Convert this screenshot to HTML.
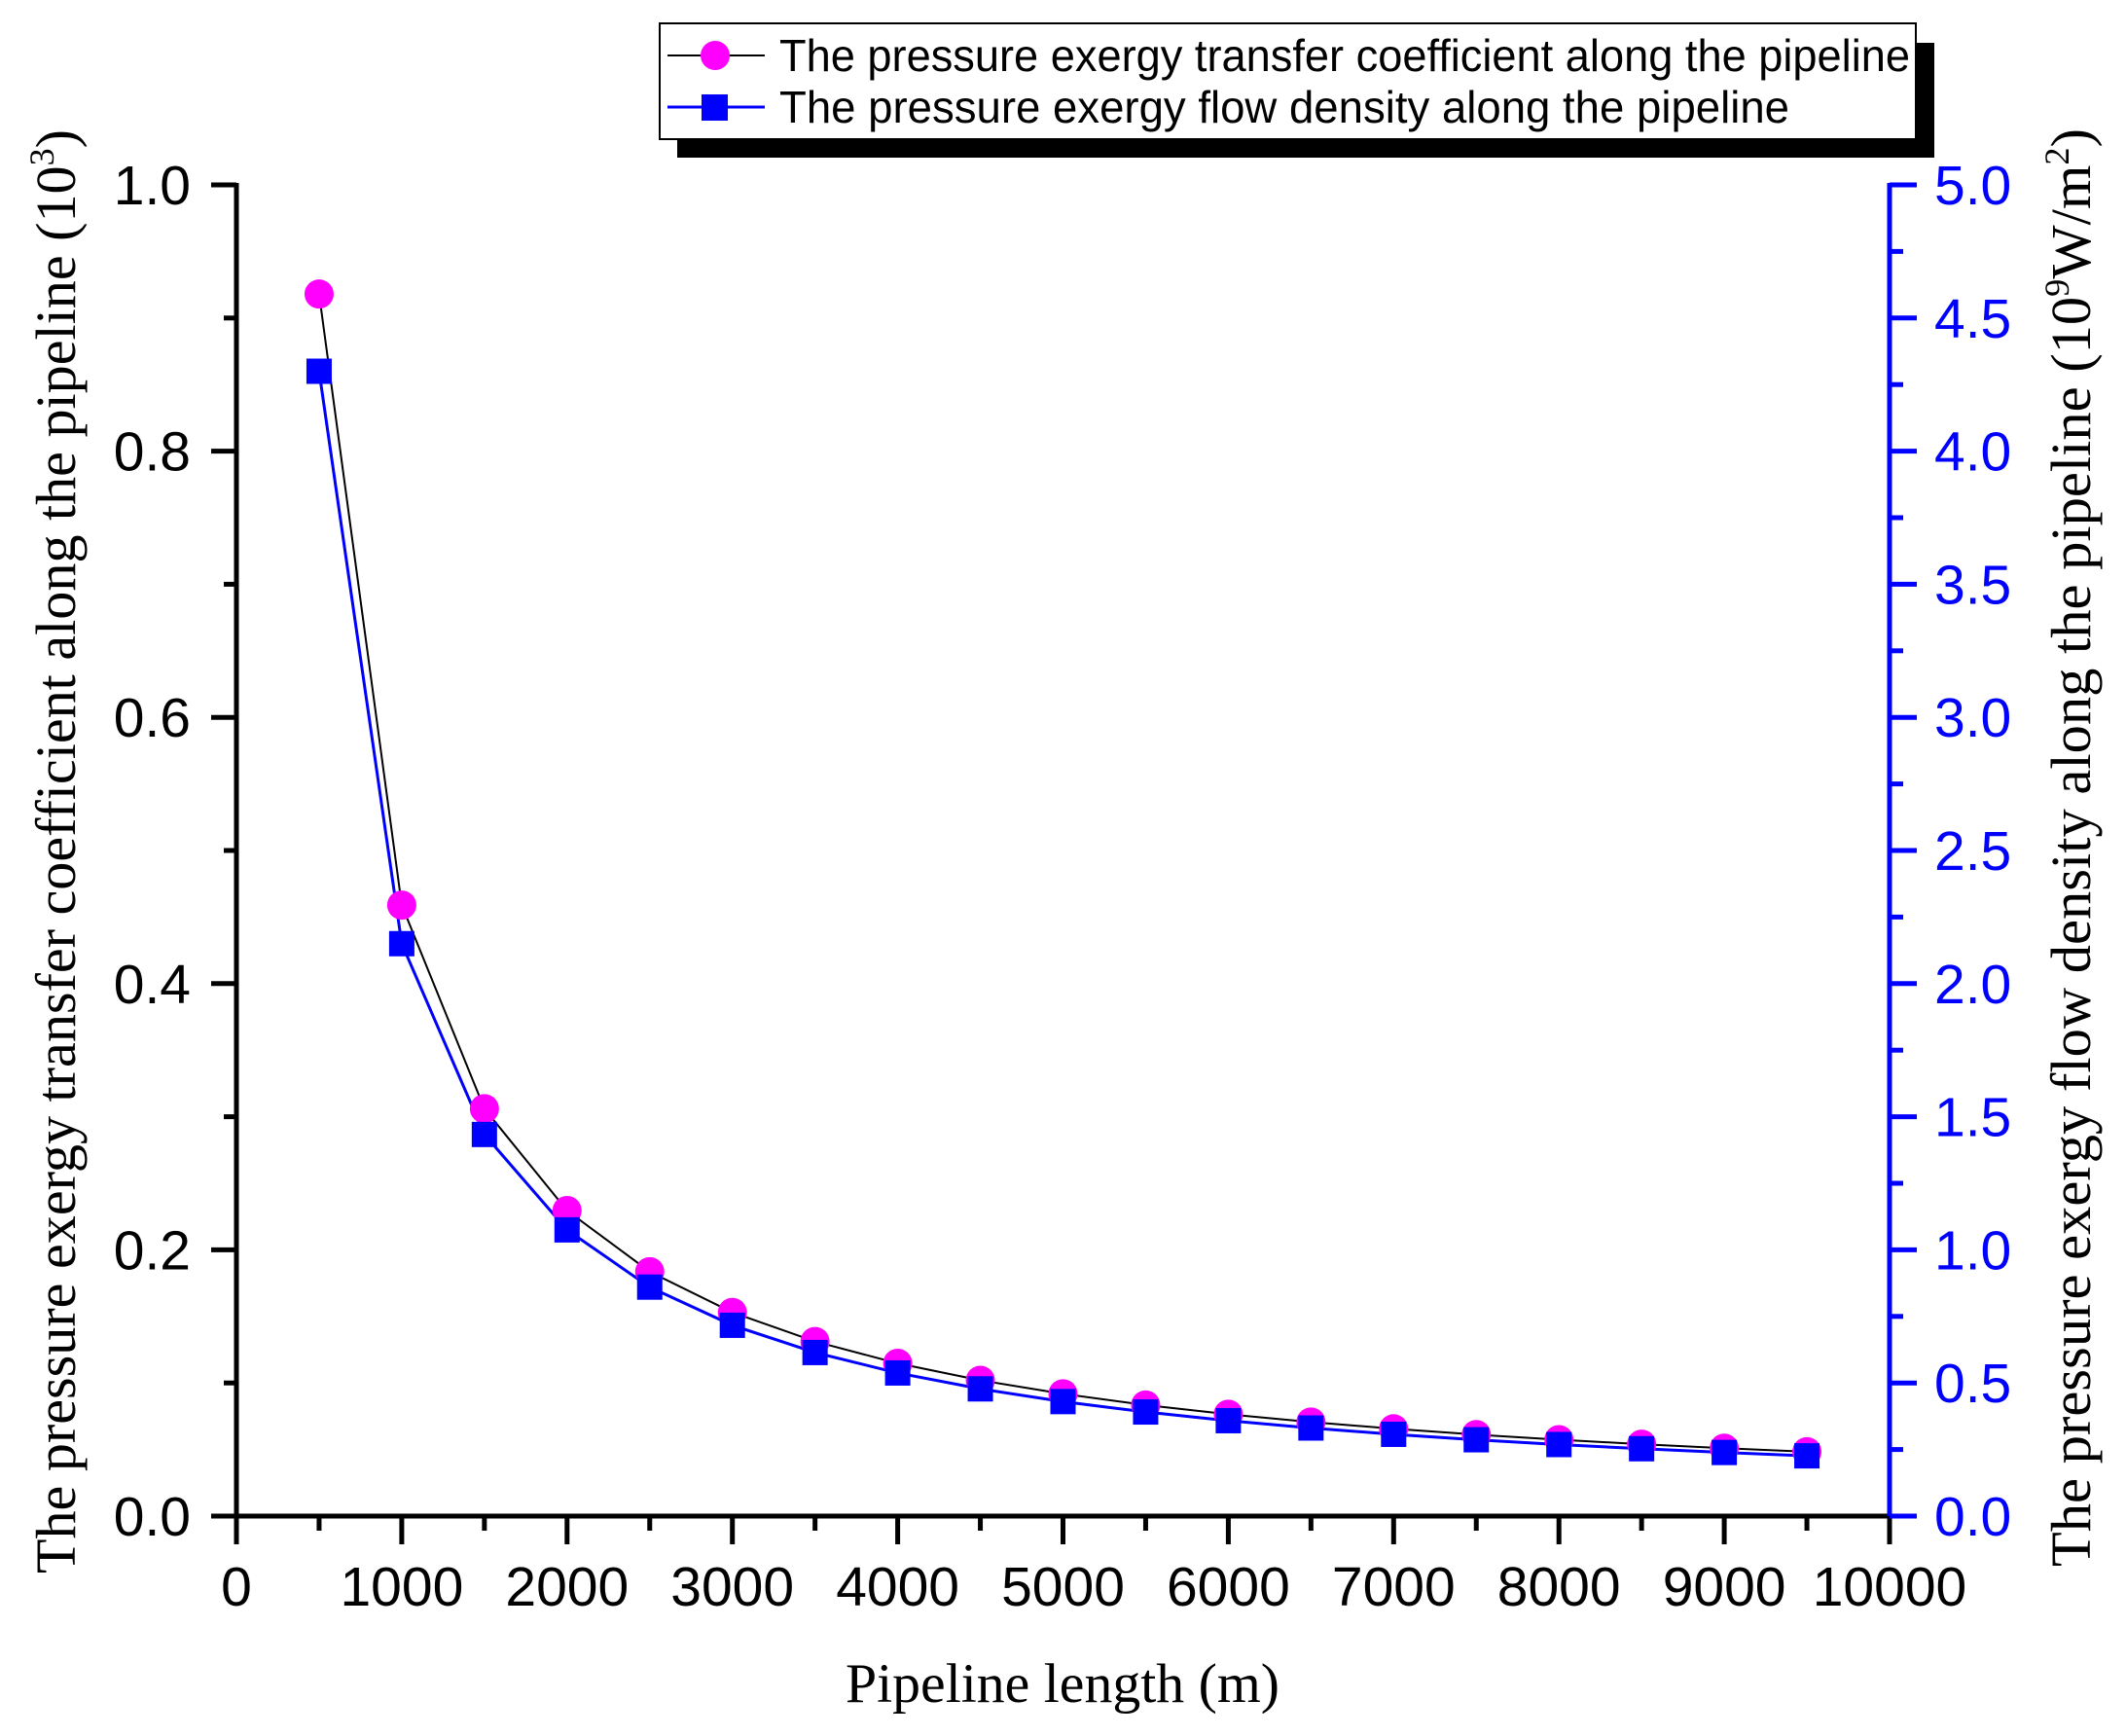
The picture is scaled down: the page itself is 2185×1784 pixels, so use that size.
<!DOCTYPE html>
<html><head><meta charset="utf-8"><style>html,body{margin:0;padding:0;background:#fff}svg{display:block}</style></head>
<body>
<svg width="2185" height="1784" viewBox="0 0 2185 1784" xmlns="http://www.w3.org/2000/svg">
<rect width="2185" height="1784" fill="#fff"/>
<rect x="696" y="44" width="1292" height="118" fill="#000"/>
<rect x="678" y="24" width="1291" height="119" fill="#fff" stroke="#000" stroke-width="2"/>
<line x1="686" y1="57" x2="786" y2="57" stroke="#000" stroke-width="2"/>
<circle cx="735" cy="57" r="15" fill="#f0f"/>
<line x1="686" y1="110" x2="786" y2="110" stroke="#00f" stroke-width="3"/>
<rect x="721" y="97" width="27" height="27" fill="#00f"/>
<text x="801" y="73" font-family="Liberation Sans, sans-serif" font-size="46" textLength="1162" lengthAdjust="spacingAndGlyphs">The pressure exergy transfer coefficient along the pipeline</text>
<text x="801" y="126" font-family="Liberation Sans, sans-serif" font-size="46" textLength="1038" lengthAdjust="spacingAndGlyphs">The pressure exergy flow density along the pipeline</text>
<g id="plot"></g>
<g stroke="#000" stroke-width="5" fill="none">
<line x1="243" y1="188" x2="243" y2="1560"/>
<line x1="241" y1="1558" x2="1942" y2="1558"/>
</g>
<line x1="1942" y1="188" x2="1942" y2="1560" stroke="#00f" stroke-width="5"/>
<g id="ticks"></g>
<text x="1092" y="1749" text-anchor="middle" font-family="Liberation Serif, serif" font-size="57" textLength="446" lengthAdjust="spacingAndGlyphs">Pipeline length (m)</text>
<text transform="translate(77,875) rotate(-90)" text-anchor="middle" font-family="Liberation Serif, serif" font-size="58" textLength="1484" lengthAdjust="spacingAndGlyphs">The pressure exergy transfer coefficient along the pipeline (10<tspan dy="-22" font-size="36">3</tspan><tspan dy="22">)</tspan></text>
<text transform="translate(2148,871) rotate(-90)" text-anchor="middle" font-family="Liberation Serif, serif" font-size="58" textLength="1478" lengthAdjust="spacingAndGlyphs">The pressure exergy flow density along the pipeline (10<tspan dy="-22" font-size="36">9</tspan><tspan dy="22">W/m</tspan><tspan dy="-22" font-size="36">2</tspan><tspan dy="22">)</tspan></text>
</svg>
<script>
const ns="http://www.w3.org/2000/svg";
const X=v=>243+v*(1942-243)/10000, Y=v=>1558-v*1368;
function el(p,t,a,txt){const e=document.createElementNS(ns,t);for(const k in a)e.setAttribute(k,a[k]);if(txt!==undefined)e.textContent=txt;p.appendChild(e);return e;}
const tk=document.getElementById('ticks');
const F='Liberation Sans, sans-serif';
for(let i=0;i<=20;i++){const x=X(i*500);const maj=i%2==0;el(tk,'line',{x1:x,y1:1558,x2:x,y2:maj?1587:1573,stroke:'#000','stroke-width':5});
 if(maj)el(tk,'text',{x:x,y:1650,'text-anchor':'middle','font-family':F,'font-size':57},String(i*500));}
for(let i=0;i<=10;i++){const y=Y(i*0.1);const maj=i%2==0;
 el(tk,'line',{x1:243,y1:y,x2:maj?217:230,y2:y,stroke:'#000','stroke-width':5});
 if(maj)el(tk,'text',{x:196,y:y+20,'text-anchor':'end','font-family':F,'font-size':57},(i*0.1).toFixed(1));}
for(let i=0;i<=20;i++){const y=Y(i*0.05);const maj=i%2==0;
 el(tk,'line',{x1:1942,y1:y,x2:maj?1970:1956,y2:y,stroke:'#00f','stroke-width':5});
 if(maj)el(tk,'text',{x:1988,y:y+20,'font-family':F,'font-size':57,fill:'#00f'},(i*0.25).toFixed(1));}
const pl=document.getElementById('plot');
let a=[],b=[];for(let x=500;x<=9500;x+=500){a.push([X(x),Y(459/x)]);b.push([X(x),Y(430/x)]);}
el(pl,'polyline',{points:a.map(p=>p.join(',')).join(' '),fill:'none',stroke:'#000','stroke-width':2});
el(pl,'polyline',{points:b.map(p=>p.join(',')).join(' '),fill:'none',stroke:'#00f','stroke-width':3});
a.forEach(p=>el(pl,'circle',{cx:p[0],cy:p[1],r:15,fill:'#f0f'}));
b.forEach(p=>el(pl,'rect',{x:p[0]-13,y:p[1]-13,width:26,height:26,fill:'#00f'}));
</script>
</body></html>
